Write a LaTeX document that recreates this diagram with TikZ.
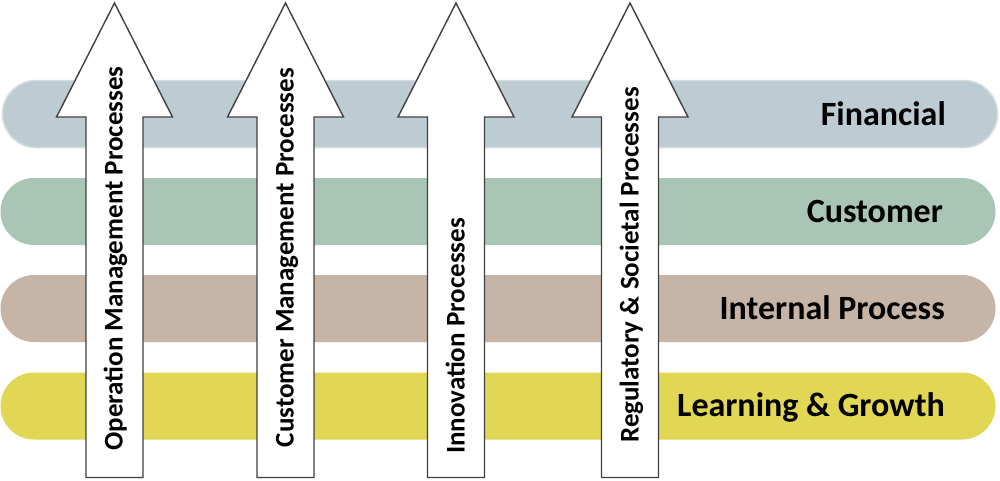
\documentclass[tikz,border=0pt]{standalone}
\usepackage{fontspec}
\setmainfont{Carlito}
\definecolor{finc}{HTML}{BDCBD2}
\definecolor{cusc}{HTML}{A9C5B5}
\definecolor{intc}{HTML}{C6B4A6}
\definecolor{lrnc}{HTML}{E1D754}
\definecolor{finb}{HTML}{D6DDE0}
\definecolor{arrc}{HTML}{404040}
\tikzset{
  bar/.style={rectangle, rounded corners=33.5pt, minimum width=995pt, minimum height=67pt, inner sep=0pt, draw=none},
  barlabel/.style={anchor=base east, inner sep=0pt, font=\bfseries\fontsize{34}{36}\selectfont},
  uparrow/.style={draw=arrc, fill=white, line width=1.4pt, line join=miter},
  arrlabel/.style={anchor=base, rotate=90, inner sep=0pt, font=\bfseries\fontsize{27}{29}\selectfont}
}
\begin{document}
\begin{tikzpicture}[x=1pt,y=-1pt]
\useasboundingbox (0,0) rectangle (1000,480);
\fill[white] (0,0) rectangle (1000,480);
% bars
\node[bar, fill=finc, draw=finb, line width=1.5pt] (fin) at (500,114) {};
\node[bar, fill=cusc] (cus) at (498,211.5) {};
\node[bar, fill=intc] (int) at (498,308.5) {};
\node[bar, fill=lrnc] (lrn) at (498,406) {};
% arrows
\foreach \c/\n in {114.5/a1, 285.5/a2, 456/a3, 630/a4}{
  \draw[uparrow] (\c,3) -- (\c+58,117) -- (\c+28.5,117) -- (\c+28.5,477.5)
     -- (\c-28.5,477.5) -- (\c-28.5,117) -- (\c-58,117) -- cycle;
}
% arrow labels
\node[arrlabel] (t1) at (122.5,258.5) {Operation Management Processes};
\node[arrlabel] (t2) at (293.5,257.5) {Customer Management Processes};
\node[arrlabel] (t3) at (464.5,336) {Innovation Processes};
\node[arrlabel] (t4) at (638.5,265) {Regulatory \& Societal Processes};
% bar labels
\node[barlabel] (lfin) at (946,125) {Financial};
\node[barlabel] (lcus) at (943,222) {Customer};
\node[barlabel] (lint) at (945,319) {Internal Process};
\node[barlabel] (llrn) at (945,416.5) {Learning \& Growth};
\end{tikzpicture}
\end{document}
